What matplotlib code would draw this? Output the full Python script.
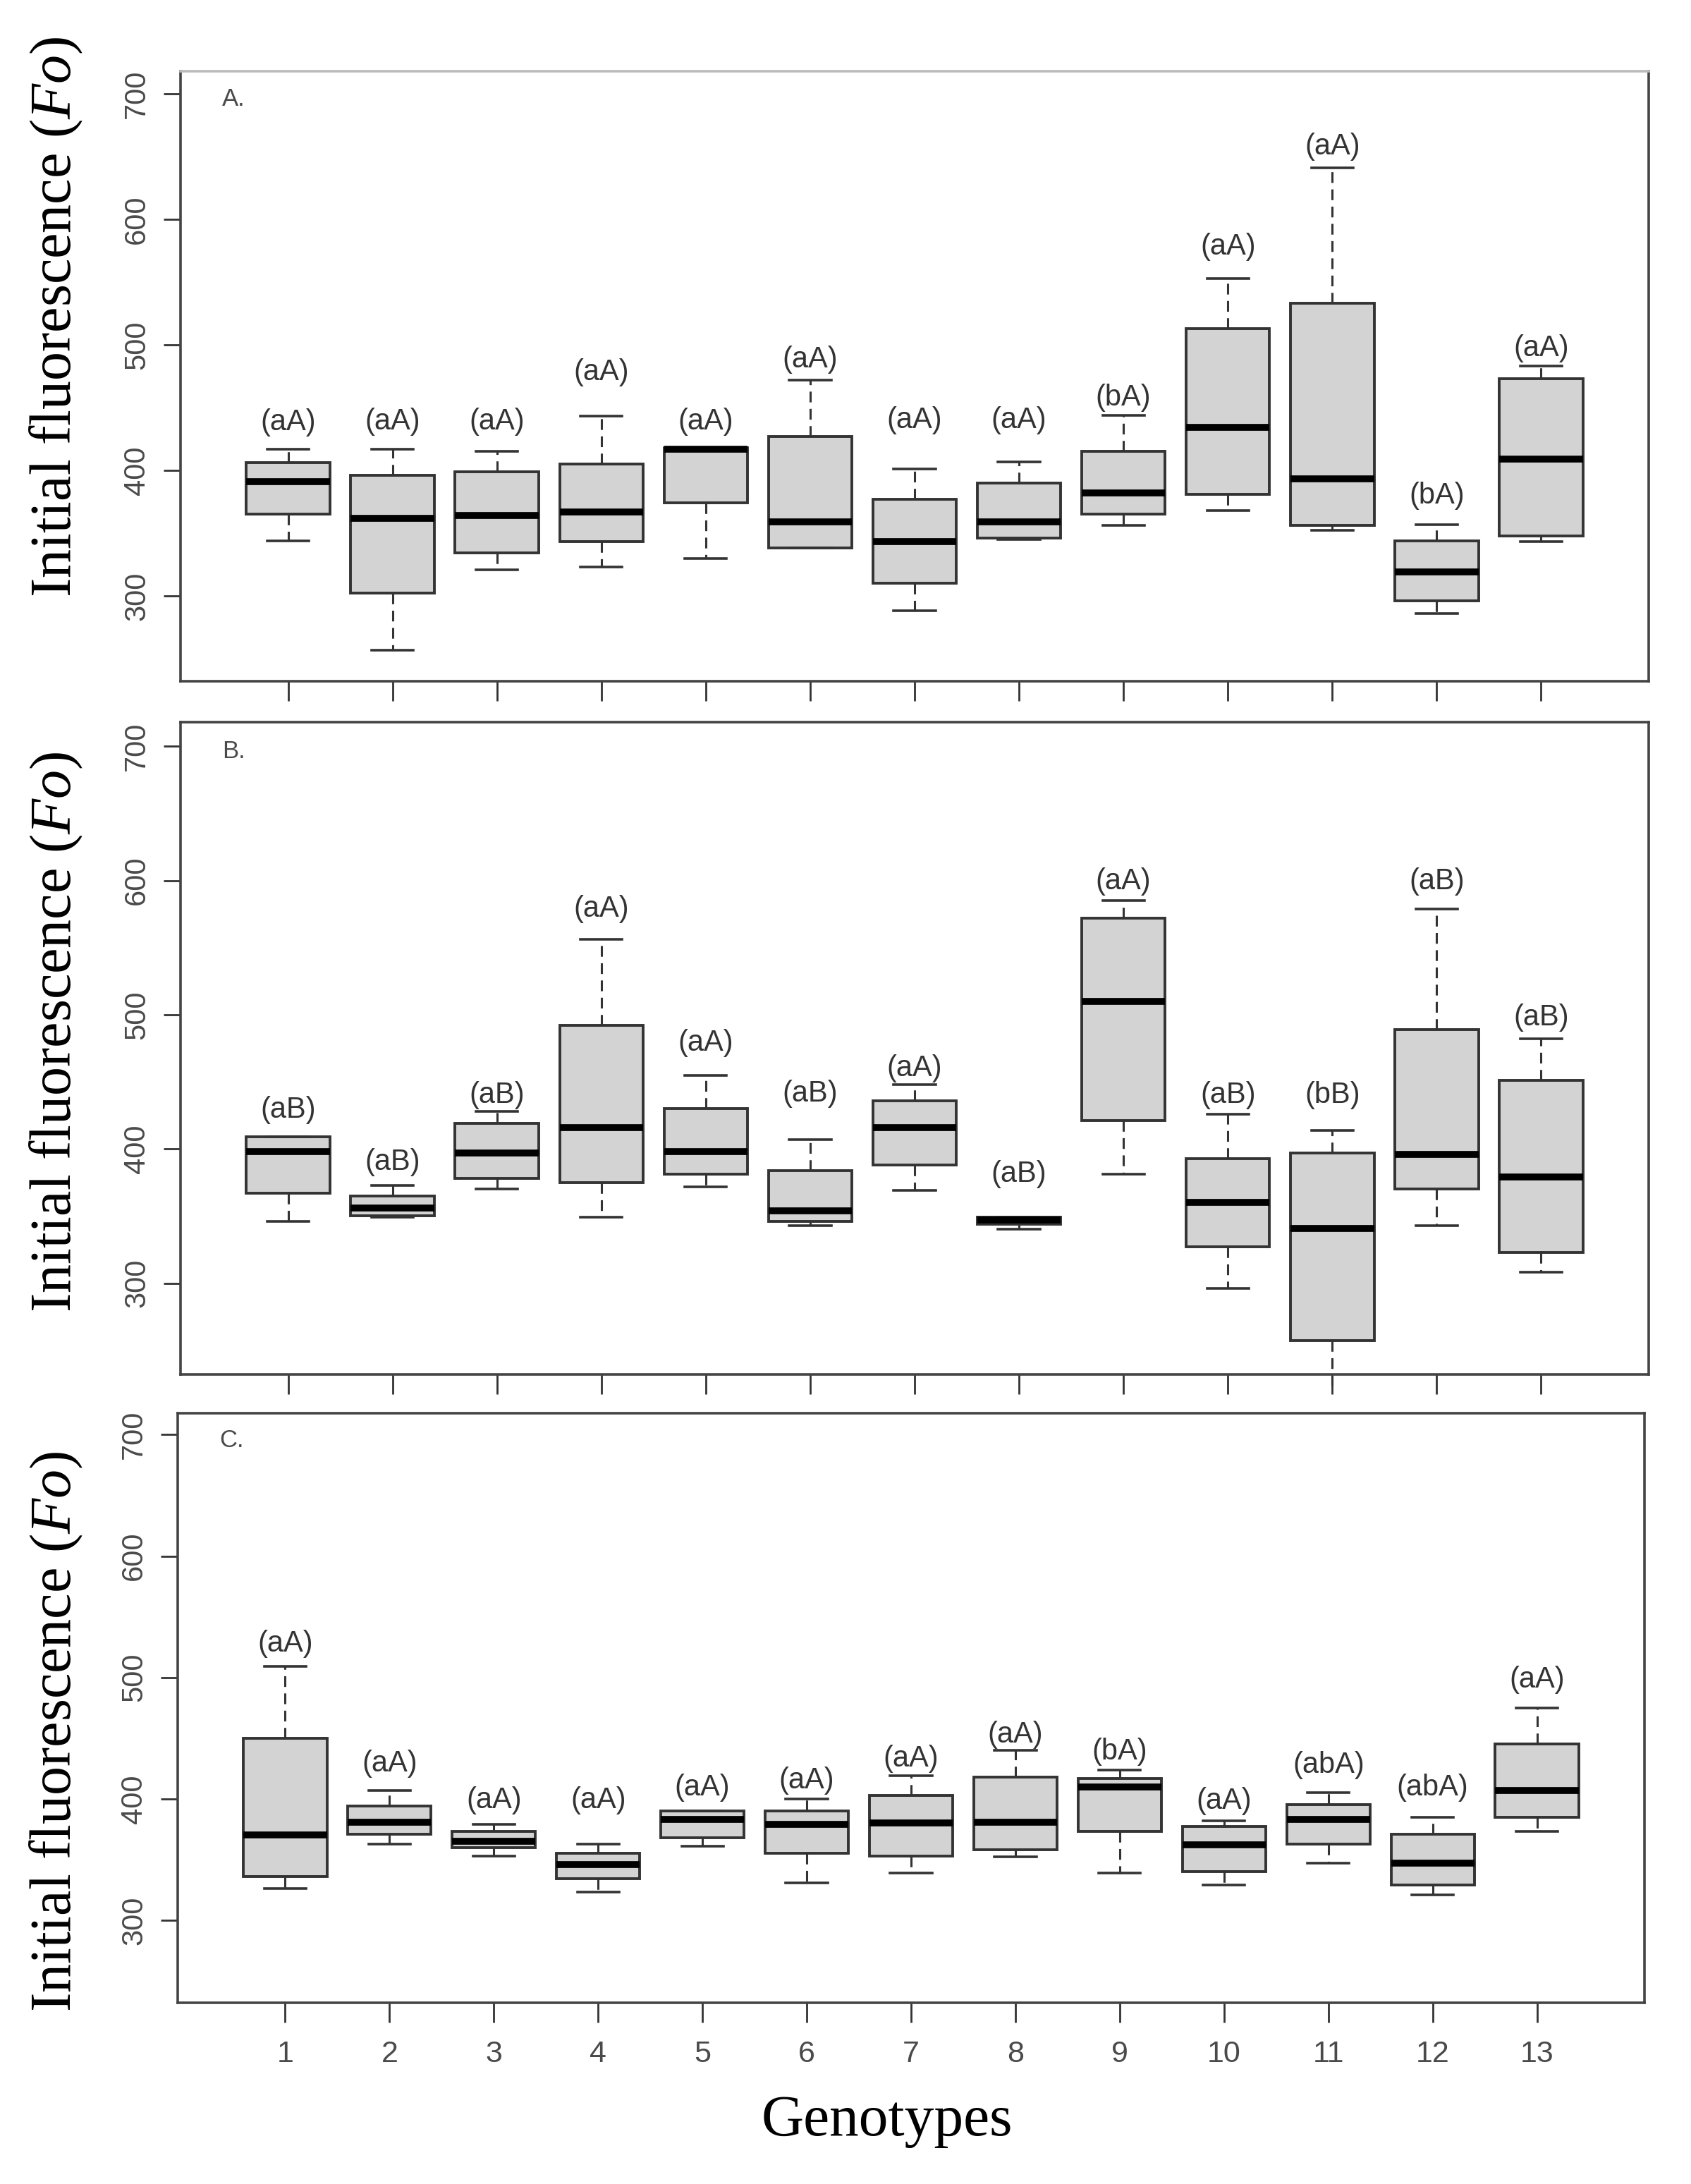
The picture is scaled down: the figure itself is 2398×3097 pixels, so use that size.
import matplotlib
matplotlib.use("Agg")
import matplotlib.pyplot as plt

# genotypes 1..13
genotypes = list(range(1, 14))

# panel A: box statistics
a_whislo = [344, 257, 321, 323, 330, 338, 288, 345, 356, 368, 352, 286, 343]
a_q1 = [365, 302, 334, 343, 374, 338, 310, 346, 365, 381, 356, 296, 348]
a_med = [391, 362, 364, 367, 417, 359, 343, 359, 382, 434, 393, 319, 409]
a_q3 = [406, 396, 399, 405, 418, 427, 377, 390, 415, 513, 533, 344, 473]
a_whishi = [417, 417, 415, 443, 418, 472, 401, 407, 444, 553, 641, 357, 483]
a_letters = ["(aA)", "(aA)", "(aA)", "(aA)", "(aA)", "(aA)", "(aA)",
             "(aA)", "(bA)", "(aA)", "(aA)", "(bA)", "(aA)"]
a_label_y = [438, 439, 439, 478, 439, 488, 440, 440, 458, 578, 658, 380, 497]

# panel B
b_whislo = [346, 349, 370, 349, 372, 343, 369, 340, 381, 296, 220, 343, 308]
b_q1 = [367, 350, 378, 375, 381, 346, 388, 344, 421, 327, 257, 370, 323]
b_med = [398, 356, 397, 416, 398, 354, 416, 347, 510, 360, 341, 396, 379]
b_q3 = [409, 365, 419, 492, 430, 384, 436, 349, 572, 393, 397, 489, 451]
b_whishi = [409, 373, 428, 556, 455, 407, 448, 349, 585, 426, 414, 579, 482]
b_letters = ["(aB)", "(aB)", "(aB)", "(aA)", "(aA)", "(aB)", "(aA)",
             "(aB)", "(aA)", "(aB)", "(bB)", "(aB)", "(aB)"]
b_label_y = [429, 390, 440, 579, 479, 441, 460, 381, 599, 440, 440, 599, 498]

# panel C
c_whislo = [326, 363, 353, 323, 361, 331, 339, 352, 339, 329, 347, 321, 373]
c_q1 = [336, 371, 360, 334, 368, 355, 353, 358, 373, 340, 363, 329, 385]
c_med = [370, 381, 365, 346, 383, 379, 380, 381, 410, 362, 383, 347, 407]
c_q3 = [450, 394, 373, 355, 390, 390, 403, 418, 417, 377, 395, 371, 445]
c_whishi = [509, 407, 379, 363, 390, 400, 419, 440, 424, 382, 405, 385, 475]
c_letters = ["(aA)", "(aA)", "(aA)", "(aA)", "(aA)", "(aA)", "(aA)",
             "(aA)", "(bA)", "(aA)", "(abA)", "(abA)", "(aA)"]
c_label_y = [528, 429, 399, 399, 409, 415, 433, 453, 439, 398, 428, 409, 498]

yticks = [300, 400, 500, 600, 700]

plt.rcParams["mathtext.fontset"] = "custom"
plt.rcParams["mathtext.rm"] = "Liberation Serif"
plt.rcParams["mathtext.it"] = "Liberation Serif:italic"

R_FONT = ["Liberation Sans Narrow", "Liberation Sans"]
FRAME = "#444444"
TXT = "#4a4a4a"

fig = plt.figure(figsize=(23.98, 30.97), dpi=100)

panels = [
    ("A.", [0.10676, 0.68808, 0.8682, 0.27930], 0.855,
     (a_whislo, a_q1, a_med, a_q3, a_whishi), a_letters, a_label_y),
    ("B.", [0.10676, 0.37068, 0.8682, 0.29868], 0.5276,
     (b_whislo, b_q1, b_med, b_q3, b_whishi), b_letters, b_label_y),
    ("C.", [0.10509, 0.08298, 0.86739, 0.27010], 0.2073,
     (c_whislo, c_q1, c_med, c_q3, c_whishi), c_letters, c_label_y),
]

for tag, rect, ylab_y, stats_cols, letters, label_y in panels:
    ax = fig.add_axes(rect)
    lo, q1, med, q3, hi = stats_cols
    stats = []
    for i in range(len(genotypes)):
        stats.append(dict(whislo=lo[i], q1=q1[i], med=med[i], q3=q3[i],
                          whishi=hi[i], fliers=[]))
    art = ax.bxp(stats, positions=genotypes, widths=0.8, capwidths=0.4,
                 patch_artist=True, showfliers=False,
                 boxprops=dict(facecolor="#d3d3d3", edgecolor="#333333", linewidth=2.8),
                 medianprops=dict(color="black", linewidth=7, solid_capstyle="butt"),
                 whiskerprops=dict(color="#333333", linewidth=2.2, linestyle=(0, (5, 3))),
                 capprops=dict(color="#333333", linewidth=2.6))
    if tag == "B.":
        # lower whisker of genotype 11 runs past the frame
        art["whiskers"][2 * 10].set_clip_on(False)

    for x, y, s in zip(genotypes, label_y, letters):
        ax.text(x, y, s, ha="center", va="center", fontsize=30,
                color="#333333", family=R_FONT)

    ax.text(0.37, 705, tag, ha="left", va="top", fontsize=25,
            color=TXT, family=R_FONT)

    ax.set_xlim(-0.03, 14.03)
    ax.set_ylim(232, 718)
    ax.set_yticks(yticks)
    ax.set_yticklabels([str(t) for t in yticks], rotation=90, va="center",
                       family=R_FONT, fontsize=30, color=TXT)
    ax.set_xticks(genotypes)
    ax.tick_params(axis="y", length=17, width=2, color="#333333", pad=13)
    ax.tick_params(axis="x", length=20, width=2, color="#333333", pad=18)
    if tag == "C.":
        ax.set_xticklabels([str(g) for g in genotypes], family=R_FONT,
                           fontsize=31, color=TXT)
    else:
        ax.tick_params(axis="x", labelbottom=False)

    for side, sp in ax.spines.items():
        sp.set_color(FRAME)
        sp.set_linewidth(2.6)
    if tag == "A.":
        ax.spines["top"].set_color("#bbbbbb")

    fig.text(0.0334, ylab_y, r"Initial fluorescence ($\mathit{Fo}$)",
             rotation=90, ha="center", va="center", fontsize=59,
             family="Liberation Serif", color="black")

fig.text(0.5246, 0.0287, "Genotypes", ha="center", va="center",
         fontsize=60, family="Liberation Serif", color="black")

fig.savefig("out.png", dpi=100)
plt.close(fig)
